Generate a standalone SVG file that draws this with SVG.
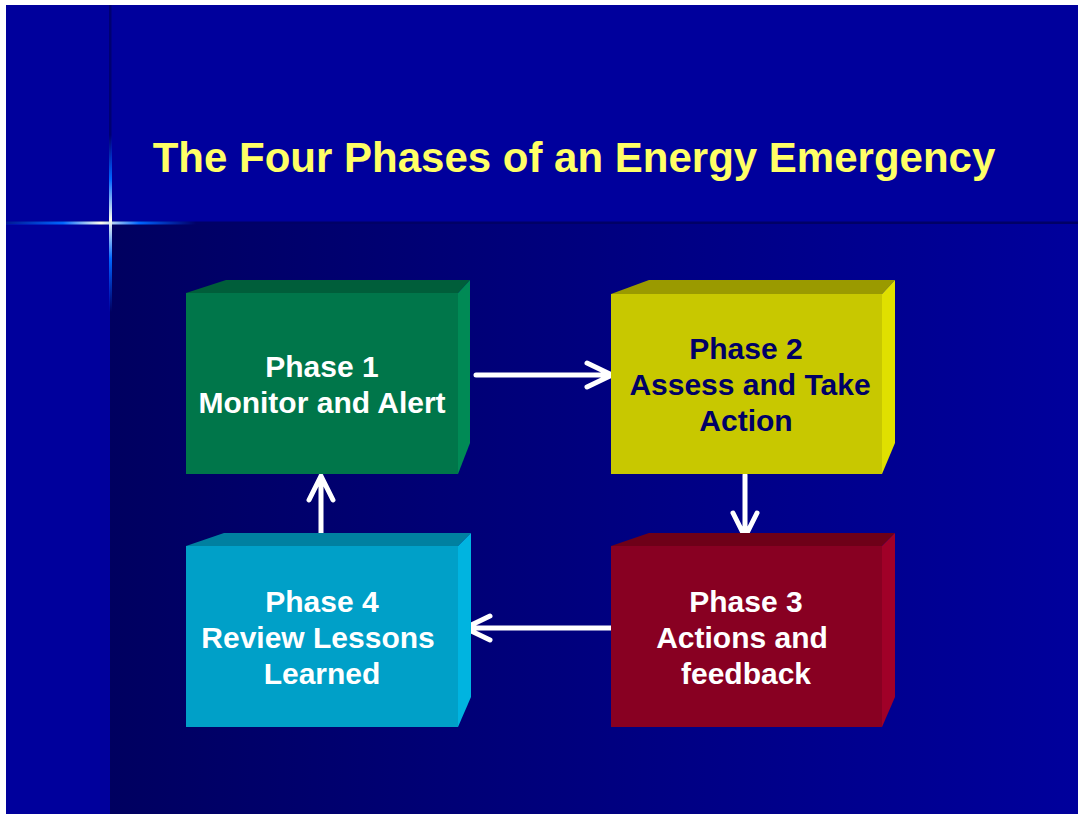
<svg xmlns="http://www.w3.org/2000/svg" width="1078" height="814" viewBox="0 0 1078 814">
<style>
.lbl{font-family:"Liberation Sans",Arial,sans-serif;font-weight:bold;font-size:30px;text-anchor:middle}
.w{fill:#FFFFFF}
.n{fill:#000066}
.conn{fill:none;stroke:#FFFFFF;stroke-width:5;stroke-linecap:round;stroke-linejoin:round}
</style>
<defs>
<linearGradient id="lowbg" x1="110" y1="0" x2="1078" y2="0" gradientUnits="userSpaceOnUse">
<stop offset="0" stop-color="#000060"/>
<stop offset="0.6" stop-color="#000085"/>
<stop offset="1" stop-color="#00009C"/>
</linearGradient>
<linearGradient id="hglow" x1="6" y1="0" x2="196" y2="0" gradientUnits="userSpaceOnUse">
<stop offset="0" stop-color="#0055FF" stop-opacity="0.3"/>
<stop offset="0.3" stop-color="#0066FF"/>
<stop offset="0.5" stop-color="#FFFFEE"/>
<stop offset="0.7" stop-color="#0066FF"/>
<stop offset="1" stop-color="#0055FF" stop-opacity="0"/>
</linearGradient>
<linearGradient id="vglow" x1="0" y1="135" x2="0" y2="312" gradientUnits="userSpaceOnUse">
<stop offset="0" stop-color="#0055FF" stop-opacity="0"/>
<stop offset="0.25" stop-color="#0066FF"/>
<stop offset="0.48" stop-color="#FFFFEE"/>
<stop offset="0.7" stop-color="#0066FF"/>
<stop offset="1" stop-color="#0055FF" stop-opacity="0"/>
</linearGradient>
</defs>
<rect x="0" y="0" width="1078" height="814" fill="#FFFFFF"/>
<rect x="6" y="5" width="1072" height="809" fill="#00009C"/>
<rect x="110" y="223" width="968" height="591" fill="url(#lowbg)"/>
<rect x="6" y="221.5" width="1072" height="2.5" fill="#000066"/>
<rect x="109" y="5" width="2.5" height="218" fill="#000070"/>
<rect x="6" y="221.5" width="190" height="3" fill="url(#hglow)"/>
<rect x="109" y="135" width="3" height="177" fill="url(#vglow)"/>
<text x="574" y="172" font-family="'Liberation Sans',Arial,sans-serif" font-weight="bold" font-size="42" fill="#FFFF66" text-anchor="middle">The Four Phases of an Energy Emergency</text>
<g id="connectors">
<path class="conn" d="M476 375 H611 M587 363 L612 375 L587 387"/>
<path class="conn" d="M745 475 V537 M733 513 L745 537 L757 513"/>
<path class="conn" d="M611 628 H465 M490 616 L465 628 L490 640"/>
<path class="conn" d="M321 545 V476 M309 500 L321 476 L333 500"/>
</g>
<g id="phase1">
<polygon points="186,293 226,280 470,280 458,293" fill="#005E3A"/>
<polygon points="458,293 470,280 470,443 458,474" fill="#008A55"/>
<rect x="186" y="293" width="272" height="181" fill="#00764A"/>
<text class="lbl w" x="322" y="377">Phase 1</text>
<text class="lbl w" x="322" y="413">Monitor and Alert</text>
</g>
<g id="phase2">
<polygon points="611,294 649,280 895,280 882,294" fill="#9A9A00"/>
<polygon points="882,294 895,280 895,443 882,474" fill="#E0E000"/>
<rect x="611" y="294" width="271" height="180" fill="#C8C800"/>
<text class="lbl n" x="746" y="359">Phase 2</text>
<text class="lbl n" x="750" y="395">Assess and Take</text>
<text class="lbl n" x="746" y="431">Action</text>
</g>
<g id="phase3">
<polygon points="611,546 649,533 895,533 882,546" fill="#6E0018"/>
<polygon points="882,546 895,533 895,697 882,727" fill="#A00028"/>
<rect x="611" y="546" width="271" height="181" fill="#880022"/>
<text class="lbl w" x="746" y="612">Phase 3</text>
<text class="lbl w" x="742" y="648">Actions and</text>
<text class="lbl w" x="746" y="684">feedback</text>
</g>
<g id="phase4">
<polygon points="186,546 224,533 471,533 458,546" fill="#0080A0"/>
<polygon points="458,546 471,533 471,697 458,727" fill="#00B4E0"/>
<rect x="186" y="546" width="272" height="181" fill="#00A0C8"/>
<text class="lbl w" x="322" y="612">Phase 4</text>
<text class="lbl w" x="318" y="648">Review Lessons</text>
<text class="lbl w" x="322" y="684">Learned</text>
</g>
</svg>
